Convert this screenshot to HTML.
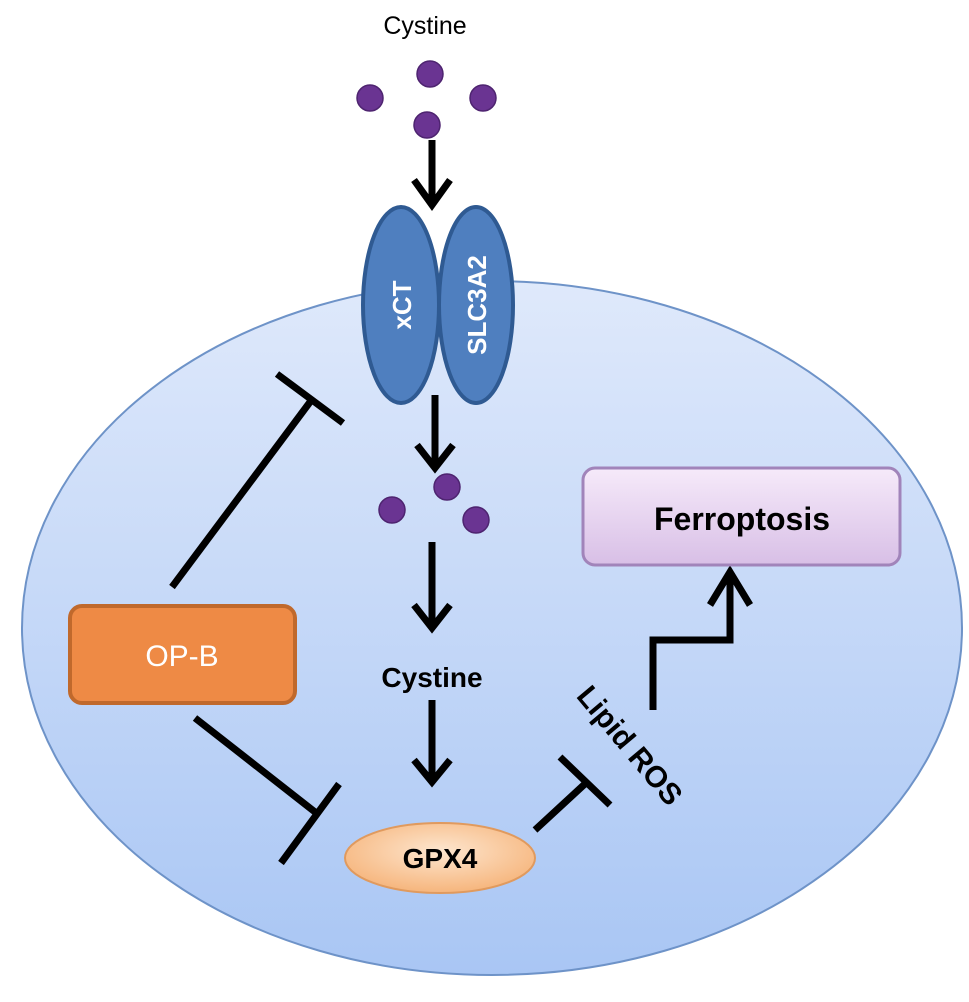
<!DOCTYPE html>
<html><head><meta charset="utf-8"><style>body{margin:0;background:#fff}svg{display:block}</style></head><body>
<svg width="969" height="1002" viewBox="0 0 969 1002" xmlns="http://www.w3.org/2000/svg" font-family="Liberation Sans, Arial, sans-serif">
<defs>
<linearGradient id="cell" x1="0" y1="0" x2="0" y2="1"><stop offset="0" stop-color="#dfe9fb"/><stop offset="1" stop-color="#a9c6f4"/></linearGradient>
<linearGradient id="fer" x1="0" y1="0" x2="0" y2="1"><stop offset="0" stop-color="#f6eafa"/><stop offset="1" stop-color="#d8bfe6"/></linearGradient>
<radialGradient id="gpx" cx="0.5" cy="0.4" r="0.6"><stop offset="0" stop-color="#fde6cf"/><stop offset="1" stop-color="#f6b57c"/></radialGradient>
</defs>
<ellipse cx="492" cy="628" rx="470" ry="347" fill="url(#cell)" stroke="#6e93c8" stroke-width="2"/>
<text x="425" y="34" font-size="25" text-anchor="middle" fill="#000">Cystine</text>
<g fill="#6a3492" stroke="#4e2470" stroke-width="1.5">
<circle cx="430" cy="74" r="13"/><circle cx="370" cy="98" r="13"/><circle cx="483" cy="98" r="13"/><circle cx="427" cy="125" r="13"/>
<circle cx="447" cy="487" r="13"/><circle cx="392" cy="510" r="13"/><circle cx="476" cy="520" r="13"/>
</g>
<g stroke="#000" stroke-width="7" fill="none" stroke-linecap="butt">
<line x1="432" y1="140" x2="432" y2="205"/><polyline points="414,180 432,205 450,180"/>
<line x1="435" y1="395" x2="435" y2="468"/><polyline points="417,445 435,468 453,445"/>
<line x1="432" y1="542" x2="432" y2="628"/><polyline points="414,605 432,628 450,605"/>
<line x1="432" y1="700" x2="432" y2="782"/><polyline points="414,760 432,782 450,760"/>
<line x1="172" y1="587" x2="313" y2="398"/><line x1="277" y1="374" x2="343" y2="423"/>
<line x1="195" y1="718" x2="315" y2="812"/><line x1="281" y1="863" x2="339" y2="784"/>
<line x1="535" y1="830" x2="587" y2="782"/><line x1="560" y1="757" x2="610" y2="805"/>
<polyline points="653,710 653,640 730,640 730,572"/><polyline points="710,605 730,572 750,605"/>
</g>
<ellipse cx="401" cy="305" rx="38" ry="98" fill="#4f7fbf" stroke="#2f5a92" stroke-width="4"/>
<ellipse cx="476" cy="305" rx="37" ry="98" fill="#4f7fbf" stroke="#2f5a92" stroke-width="4"/>
<text transform="translate(411,305) rotate(-90)" font-size="26" font-weight="bold" fill="#fff" text-anchor="middle">xCT</text>
<text transform="translate(486,305) rotate(-90)" font-size="26" font-weight="bold" fill="#fff" text-anchor="middle">SLC3A2</text>
<rect x="70" y="606" width="225" height="97" rx="12" fill="#ee8a45" stroke="#c0692c" stroke-width="4"/>
<text x="182" y="666" font-size="30" fill="#fff" text-anchor="middle">OP-B</text>
<text x="432" y="687" font-size="28" font-weight="bold" text-anchor="middle" fill="#000">Cystine</text>
<ellipse cx="440" cy="858" rx="95" ry="35" fill="url(#gpx)" stroke="#e09a5e" stroke-width="2"/>
<text x="440" y="868" font-size="28" font-weight="bold" text-anchor="middle" fill="#000">GPX4</text>
<text transform="translate(622,752) rotate(50)" font-size="30" font-weight="bold" text-anchor="middle" fill="#000">Lipid ROS</text>
<rect x="583" y="468" width="317" height="97" rx="12" fill="url(#fer)" stroke="#a184ba" stroke-width="3"/>
<text x="742" y="530" font-size="32" font-weight="bold" text-anchor="middle" fill="#000">Ferroptosis</text>
</svg>
</body></html>
